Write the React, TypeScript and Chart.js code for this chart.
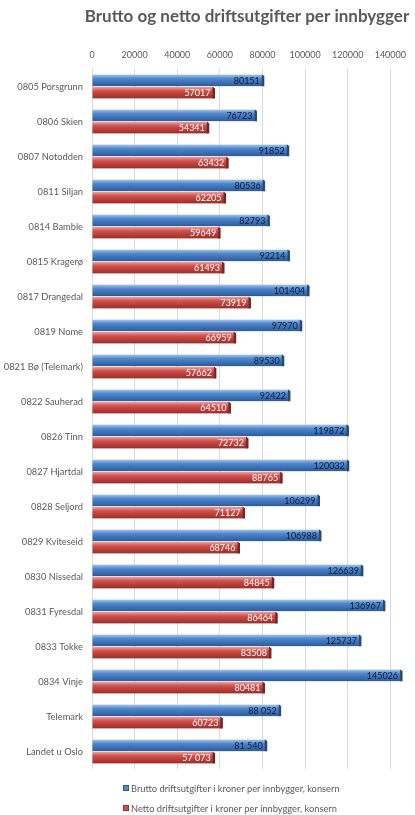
import React, { useEffect, useRef } from "react";
import { Chart, registerables } from "chart.js";

Chart.register(...registerables);

const title = "Brutto og netto driftsutgifter per innbygger";

const categories = [
  "0805 Porsgrunn",
  "0806 Skien",
  "0807 Notodden",
  "0811 Siljan",
  "0814 Bamble",
  "0815 Kragerø",
  "0817 Drangedal",
  "0819 Nome",
  "0821 Bø (Telemark)",
  "0822 Sauherad",
  "0826 Tinn",
  "0827 Hjartdal",
  "0828 Seljord",
  "0829 Kviteseid",
  "0830 Nissedal",
  "0831 Fyresdal",
  "0833 Tokke",
  "0834 Vinje",
  "Telemark",
  "Landet u Oslo",
];

const bruttoLabel = "Brutto driftsutgifter i kroner per innbygger, konsern";
const nettoLabel = "Netto driftsutgifter i kroner per innbygger, konsern";

const bruttoValues = [
  80151, 76723, 91852, 80536, 82793, 92214, 101404, 97970, 89530, 92422,
  119872, 120032, 106299, 106988, 126639, 136967, 125737, 145026, 88052, 81540,
];
const nettoValues = [
  57017, 54341, 63432, 62205, 59649, 61493, 73919, 66959, 57662, 64510,
  72732, 88765, 71127, 68746, 84845, 86464, 83508, 80481, 60723, 57073,
];

// rows whose value labels use a space as thousands separator
const bruttoSpaced = ["Telemark", "Landet u Oslo"];
const nettoSpaced = ["Landet u Oslo"];

const xTicks = [0, 20000, 40000, 60000, 80000, 100000, 120000, 140000];

const FONT = "Lato, 'Open Sans', sans-serif";
const TEXT = "#595959";

function fmt(v: number, spaced: boolean) {
  const s = String(v);
  if (!spaced) return s;
  return s.replace(/\B(?=(\d{3})+(?!\d))/g, " ");
}

const barStyles = [
  { top: "#a3c4ee", mid: "#4f86cc", bot: "#2c5c9a", cap: "#234a7c", text: "#0f1e3a" },
  { top: "#f3a29e", mid: "#d0504b", bot: "#9a2e2b", cap: "#7c2422", text: "#ffffff" },
];

const styledBars = {
  id: "styledBars",
  afterDatasetsDraw(chart: any) {
    const ctx = chart.ctx;
    ctx.save();
    chart.data.datasets.forEach((ds: any, di: number) => {
      const meta = chart.getDatasetMeta(di);
      const st = barStyles[di];
      const spacedList = di === 0 ? bruttoSpaced : nettoSpaced;
      meta.data.forEach((bar: any, i: number) => {
        const { x, y, base, height } = bar.getProps(["x", "y", "base", "height"], true);
        const t = y - height / 2;
        const h = height;
        const g = ctx.createLinearGradient(0, t, 0, t + h);
        g.addColorStop(0, st.top);
        g.addColorStop(0.35, st.mid);
        g.addColorStop(1, st.bot);
        ctx.fillStyle = g;
        ctx.fillRect(base, t, x - base, h);
        // end cap
        ctx.fillStyle = st.cap;
        ctx.beginPath();
        ctx.moveTo(x - 1, t);
        ctx.lineTo(x + 1.5, t + 1.5);
        ctx.lineTo(x + 1.5, t + h);
        ctx.lineTo(x - 1, t + h);
        ctx.closePath();
        ctx.fill();
        // value label
        ctx.font = "9px " + FONT;
        ctx.fillStyle = st.text;
        ctx.textAlign = "right";
        ctx.textBaseline = "middle";
        const label = fmt(ds.data[i], spacedList.includes(categories[i]));
        ctx.fillText(label, x - 3, y + 0.5);
      });
    });
    ctx.restore();
  },
};

const titleAndLegend = {
  id: "titleAndLegend",
  afterDraw(chart: any) {
    const ctx = chart.ctx;
    ctx.save();
    ctx.font = "bold 17px " + FONT;
    ctx.fillStyle = TEXT;
    ctx.textAlign = "center";
    ctx.textBaseline = "middle";
    ctx.fillText(title, 247, 17);

    const items = [
      { text: bruttoLabel, color: "#4f86cc", border: "#2c5c9a", y: 788 },
      { text: nettoLabel, color: "#d0504b", border: "#9a2e2b", y: 808 },
    ];
    ctx.font = "9.3px " + FONT;
    ctx.textAlign = "left";
    items.forEach((it) => {
      ctx.fillStyle = it.color;
      ctx.fillRect(123, it.y - 3, 6, 6);
      ctx.strokeStyle = it.border;
      ctx.lineWidth = 1;
      ctx.strokeRect(123.5, it.y - 2.5, 5, 5);
      ctx.fillStyle = TEXT;
      ctx.fillText(it.text, 131, it.y + 0.5);
    });
    ctx.restore();
  },
};

export default function App() {
  const ref = useRef<HTMLCanvasElement | null>(null);

  useEffect(() => {
    document.body.style.margin = "0";
    const canvas = ref.current;
    if (!canvas) return;
    const chart = new Chart(canvas, {
      type: "bar",
      data: {
        labels: categories,
        datasets: [
          {
            label: bruttoLabel,
            data: bruttoValues,
            backgroundColor: "rgba(0,0,0,0)",
            categoryPercentage: 0.7,
            barPercentage: 0.94,
          },
          {
            label: nettoLabel,
            data: nettoValues,
            backgroundColor: "rgba(0,0,0,0)",
            categoryPercentage: 0.7,
            barPercentage: 0.94,
          },
        ],
      },
      options: {
        indexAxis: "y",
        animation: false,
        responsive: false,
        maintainAspectRatio: false,
        layout: { padding: { top: 41, bottom: 46, left: 0, right: 0 } },
        plugins: {
          legend: { display: false },
          title: { display: false },
          tooltip: { enabled: false },
        },
        scales: {
          x: {
            position: "top",
            min: 0,
            max: 148000,
            afterBuildTicks: (axis: any) => {
              axis.ticks = xTicks.map((v) => ({ value: v }));
            },
            afterFit: (s: any) => {
              s.height = 28;
            },
            grid: { color: "#d9d9d9", drawTicks: false, lineWidth: 1 },
            border: { display: false },
            ticks: {
              padding: 9,
              color: TEXT,
              font: { size: 9, family: FONT },
              maxRotation: 0,
              autoSkip: false,
              callback: (v: any) => String(v),
            },
          },
          y: {
            afterFit: (s: any) => {
              s.width = 92;
            },
            grid: { display: false, drawTicks: false },
            border: { display: false },
            ticks: {
              padding: 9,
              color: TEXT,
              font: { size: 9.3, family: FONT },
              autoSkip: false,
            },
          },
        },
      },
      plugins: [styledBars, titleAndLegend],
    });
    return () => chart.destroy();
  }, []);

  return (
    <div style={{ width: 415, height: 815, background: "#fff" }}>
      <canvas ref={ref} width={415} height={815} style={{ display: "block" }} />
    </div>
  );
}
